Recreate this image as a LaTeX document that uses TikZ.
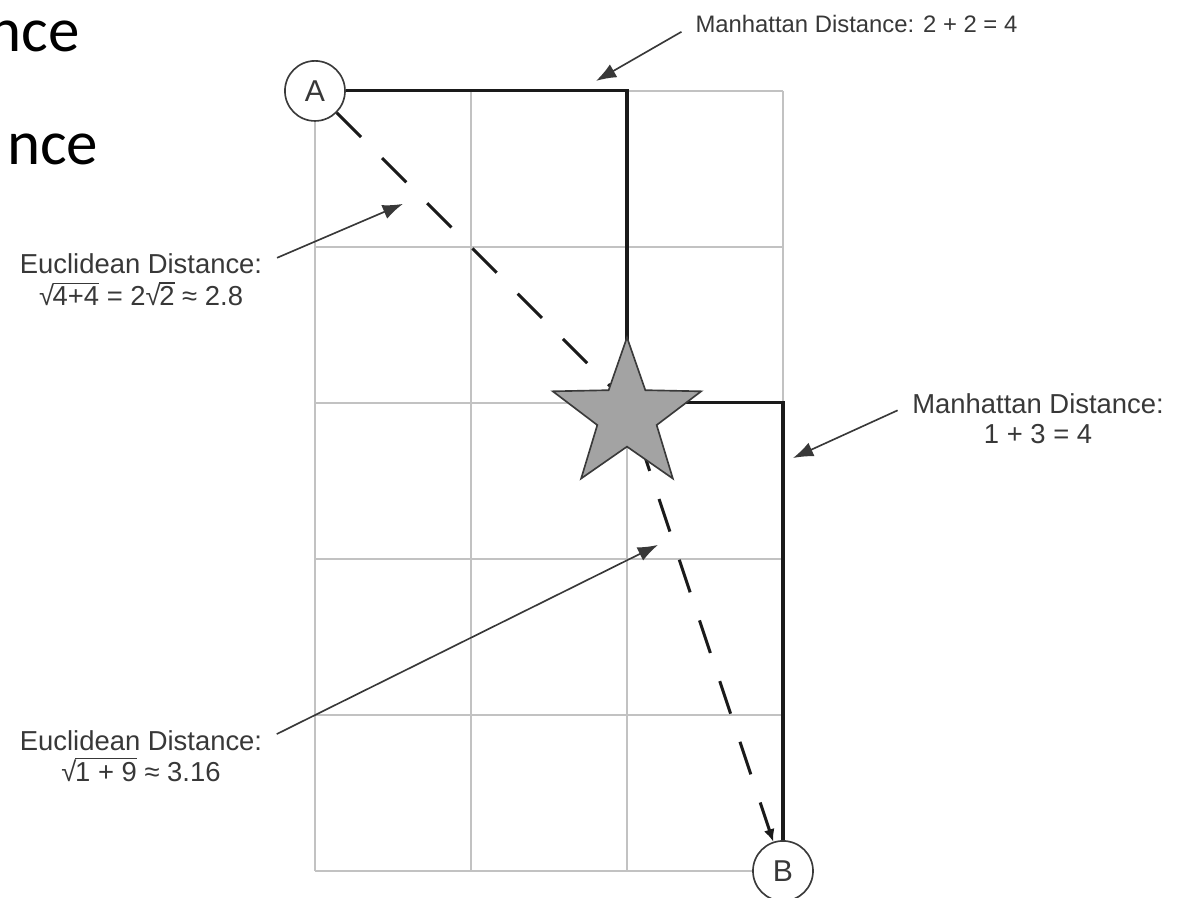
\documentclass[tikz,border=0pt]{standalone}
\usepackage{fontspec}
\setmainfont{Liberation Sans}
\newfontfamily\slidefont{Carlito}
\usetikzlibrary{arrows.meta, positioning, shapes.geometric}
\definecolor{gridgray}{HTML}{C2C2C2}
\definecolor{inkline}{HTML}{1A1A1A}
\definecolor{labeltext}{HTML}{383838}
\definecolor{starfill}{HTML}{A3A3A3}
\definecolor{starborder}{HTML}{3A3A3A}
\newcommand\sansroot[1]{√\kern-0.05em$\overline{\mbox{#1}}$}
\tikzset{
  gridline/.style={draw=gridgray, line width=0.6pt},
  endpoint/.style={circle, draw=starborder, fill=white, line width=0.6pt,
                   minimum size=0.77cm, inner sep=0pt,
                   font=\fontsize{11}{13}\selectfont, text=labeltext},
  manhattan/.style={draw=inkline, line width=1.1pt},
  euclid/.style={draw=inkline, line width=1.1pt, dash pattern=on 0.44cm off 0.38cm,
                 -{Latex[length=1.6mm, width=1.4mm]}},
  midstar/.style={star, star points=5, star point ratio=2.5, minimum size=2.0cm,
                  inner sep=0pt, fill=starfill, draw=starborder, line width=0.6pt},
  caption/.style={font=\fontsize{10}{12}\selectfont, text=labeltext, inner sep=0pt},
  pointer/.style={-{Latex[length=2.6mm, width=1.9mm]}, line width=0.6pt,
                  draw=labeltext, shorten <=0.2cm},
  slide/.style={font=\slidefont\fontsize{23}{28}\selectfont, inner sep=0pt,
                anchor=base east},
}

\begin{document}
\begin{tikzpicture}[x=2cm, y=2cm]
\useasboundingbox (-2.019,-0.173) rectangle (5.596,5.583);

% leftovers of the slide text, cut by the left edge
\node[slide] (slideA) at (-1.505,5.25) {nce};
\node[slide] (slideB) at (-1.385,4.526) {nce};

% 3x5 street grid
\foreach \i in {0,...,3} \draw[gridline] (\i,0) -- (\i,5);
\foreach \j in {0,...,5} \draw[gridline] (0,\j) -- (3,\j);

% start, goal and the meeting point
\node[endpoint] (A) at (0,5) {A};
\node[endpoint] (B) at (3,0) {B};
\coordinate (meet) at (2,3);

% both routes, the star goes on top
\draw[manhattan] (A) -| (meet) -| (B);
\draw[euclid] (A) -- (meet) -- (B);
\node[midstar] (star) at (2,2.92) {};

% labels
\node[caption, anchor=west, font=\fontsize{8.7}{10}\selectfont] (manTop) at (2.436,5.429)
  {Manhattan Distance: 2 + 2 = 4};
\node[caption] (eucTop) at (-1.115,3.891) {Euclidean Distance:};
\node[caption, below=0.08cm of eucTop] (eucTopVal)
  {\sansroot{4+4} = 2\sansroot{2} ≈ 2.8};
\node[caption] (manMid) at (4.635,2.994) {Manhattan Distance:};
\node[caption, below=0.12cm of manMid] (manMidVal) {1 + 3 = 4};
\node[caption] (eucLow) at (-1.115,0.833) {Euclidean Distance:};
\node[caption, below=0.06cm of eucLow] (eucLowVal) {\sansroot{1 + 9} ≈ 3.16};

% where the pointers land
\coordinate (manTopTip) at (1.801,5.064);
\coordinate (eucTopTip) at (0.564,4.276);
\coordinate (manMidTip) at (3.064,2.647);
\coordinate (eucLowTip) at (2.199,2.090);

\draw[pointer] (manTop.west) -- (manTopTip);
\draw[pointer] (eucTop.east) -- (eucTopTip);
\draw[pointer] (manMid.west) -- (manMidTip);
\draw[pointer] (eucLow.east) -- (eucLowTip);

\end{tikzpicture}
\end{document}
